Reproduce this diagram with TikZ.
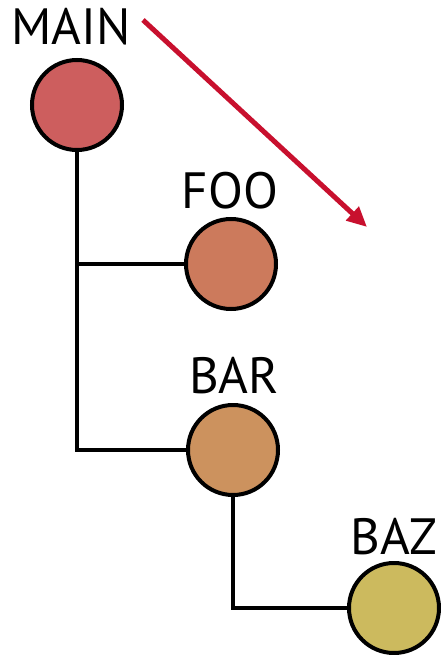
\documentclass[tikz,border=0pt]{standalone}
\usepackage{fontspec}
\setmainfont{PT Sans}
\usetikzlibrary{arrows.meta}
\definecolor{cmain}{RGB}{205,94,94}
\definecolor{cfoo}{RGB}{204,122,92}
\definecolor{cbar}{RGB}{204,146,94}
\definecolor{cbaz}{RGB}{204,186,94}
\definecolor{cred}{RGB}{200,16,46}
\tikzset{
  dot/.style={circle, draw=black, line width=4pt, minimum size=90pt, inner sep=0pt},
  lbl/.style={anchor=base, inner sep=0pt, font=\fontsize{51}{51}\selectfont},
  wire/.style={draw=black, line width=3.6pt}
}
\begin{document}
\begin{tikzpicture}[x=1pt,y=-1pt]
\useasboundingbox (0,0) rectangle (440,655);
\node[dot, fill=cmain] (main) at (77,105) {};
\node[dot, fill=cfoo] (foo) at (231,264) {};
\node[dot, fill=cbar] (bar) at (233,450) {};
\node[dot, fill=cbaz] (baz) at (394,608) {};
\node[lbl] (tmain) at (71,45) {MAIN};
\node[lbl] (tfoo) at (230,208) {FOO};
\node[lbl] (tbar) at (234,393) {BAR};
\node[lbl] (tbaz) at (394,554) {BAZ};
\draw[wire] (main.south) |- (bar.west);
\draw[wire] (main.south |- foo.west) -- (foo.west);
\draw[wire] (bar.south) |- (baz.west);
\coordinate (a1) at (143,20);
\coordinate (a2) at (367,227);
\draw[cred, line width=5pt, -{Triangle[length=20pt,width=18pt]}] (a1) -- (a2);
\end{tikzpicture}
\end{document}
